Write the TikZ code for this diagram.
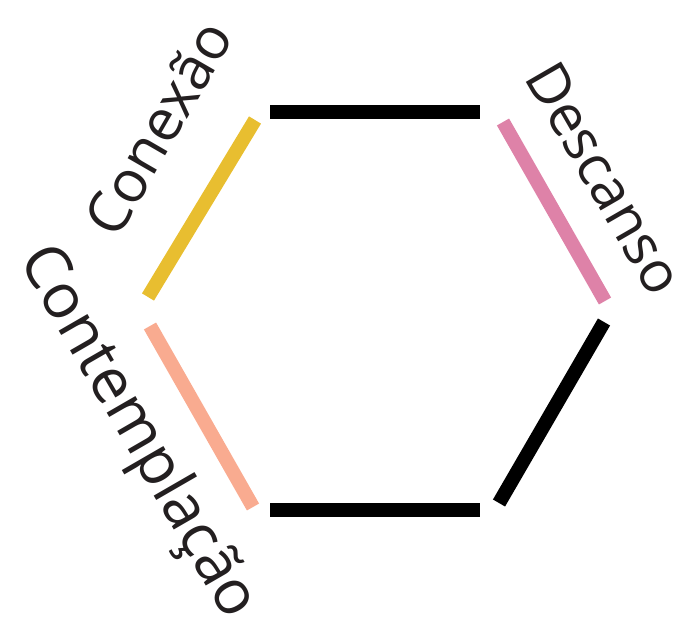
\documentclass[tikz,border=0pt]{standalone}
\usepackage{fontspec}
\setmainfont{Open Sans}
\definecolor{cyellow}{HTML}{E8BE30}
\definecolor{cpink}{HTML}{DE82A8}
\definecolor{csalmon}{HTML}{F9AB90}
\definecolor{ctext}{HTML}{231F20}
\tikzset{
  side/.style={line width=14pt, line cap=butt},
  lbl/.style={text=ctext, inner sep=0pt}
}
\begin{document}
\begin{tikzpicture}[x=1pt,y=-1pt]
\useasboundingbox (0,0) rectangle (685,623);
% sides
\draw[side, black] (270,112) -- (480,112);
\draw[side, black] (270,510) -- (480,510);
\draw[side, cpink] (503,122) -- (605,301);
\draw[side, black] (604,322) -- (499,503);
\draw[side, cyellow] (148,297) -- (255,120);
\draw[side, csalmon] (150,326) -- (253,507);
% labels
\node[lbl, rotate=60, font=\fontsize{58}{64}\selectfont] (conexao) at (158,128) {Conexão};
\node[lbl, rotate=-60, font=\fontsize{57}{64}\selectfont] (descanso) at (605,178) {Descanso};
\node[lbl, rotate=-60, font=\fontsize{62}{68}\selectfont] (contemplacao) at (137,433) {Contemplação};
\end{tikzpicture}
\end{document}
